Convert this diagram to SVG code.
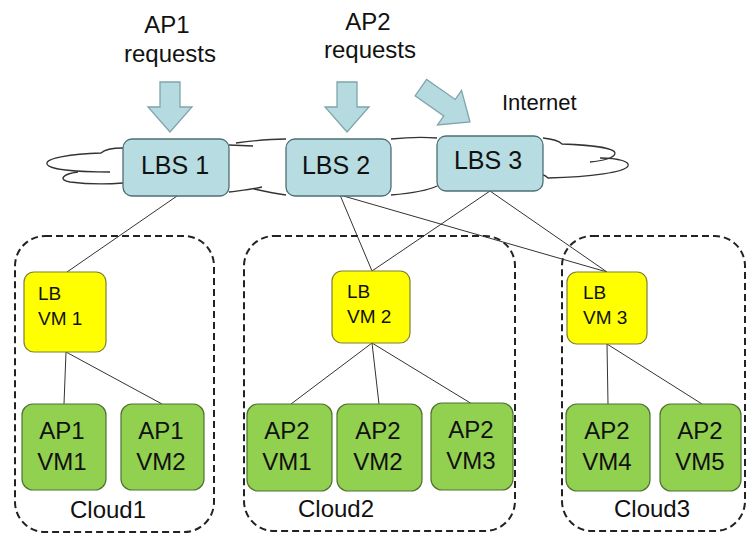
<svg xmlns="http://www.w3.org/2000/svg" width="747" height="536" viewBox="0 0 747 536">
<style>
text{font-family:"Liberation Sans",Arial,sans-serif;fill:#111}
.big{font-size:24px}
.top{font-size:24px}
.lbs{font-size:25px}
.lb{font-size:19px}
.cloudline{fill:none;stroke:#333;stroke-width:1.3}
.dash{fill:none;stroke:#222;stroke-width:2;stroke-dasharray:7 4}
.arrow{fill:#b5dbe0;stroke:#7fa5aa;stroke-width:1.3}
.lbsbox{fill:#b7dde2;stroke:#4d6f73;stroke-width:1.3}
.lbvm{fill:#ffff00;stroke:#7f7f3a;stroke-width:1.2}
.ap{fill:#92d050;stroke:#4f7230;stroke-width:1.2}
.conn{stroke:#333;stroke-width:1;fill:none}
</style>
<rect width="747" height="536" fill="#fff"/>
<g id="labels">
<text class="top" x="167" y="33" text-anchor="middle">AP1</text>
<text class="top" x="170" y="62" text-anchor="middle">requests</text>
<text class="top" x="368" y="30" text-anchor="middle">AP2</text>
<text class="top" x="370" y="58" text-anchor="middle">requests</text>
<text x="502" y="110" style="font-size:22px">Internet</text>
</g>
<g id="arrows">
<polygon class="arrow" transform="translate(170,132)" points="-10,-50 10,-50 10,-25 22,-25 0,0 -22,-25 -10,-25"/>
<polygon class="arrow" transform="translate(347,132)" points="-10,-50 10,-50 10,-25 22,-25 0,0 -22,-25 -10,-25"/>
<polygon class="arrow" transform="translate(470,122) rotate(-55)" points="-10,-60 10,-60 10,-25 21,-25 0,0 -21,-25 -10,-25"/>
</g>
<g id="internet-cloud">
<path class="cloudline" d="M123,148 C112,148 104,150 101,153 C72,154 45,158 47,164 C49,170 80,172 110,172"/>
<path class="cloudline" d="M78,172 C62,174 58,180 70,182 C86,184 110,184 123,183"/>
<path class="cloudline" d="M229,145 L253,146 M236,143 C258,140 274,139 286,139"/>
<path class="cloudline" d="M391,139 C410,137 425,137 437,138"/>
<path class="cloudline" d="M229,192 C244,190 254,189 262,187 M254,189 C268,192 279,194 286,195"/>
<path class="cloudline" d="M391,195 C414,193 429,190 437,186"/>
<path class="cloudline" d="M543,138 C552,139 558,140 562,144 C590,145 615,148 615,153 C615,158 602,161 590,162"/>
<path class="cloudline" d="M600,158 C620,158 630,162 628,166 C625,172 592,177 548,178 C546,176 544,175 543,175"/>
</g>
<g id="clouds">
<rect id="cloud1" class="dash" x="15" y="236" width="199" height="296" rx="30"/>
<rect id="cloud2" class="dash" x="244" y="236" width="271" height="295" rx="30"/>
<rect id="cloud3" class="dash" x="562" y="236" width="183" height="295" rx="30"/>
<text class="big" x="108" y="518" text-anchor="middle">Cloud1</text>
<text class="big" x="336" y="517" text-anchor="middle">Cloud2</text>
<text class="big" x="652" y="517" text-anchor="middle">Cloud3</text>
</g>
<g id="connectors">
<line class="conn" x1="177" y1="196" x2="67" y2="272"/>
<line class="conn" x1="340" y1="195" x2="372" y2="271"/>
<line class="conn" x1="340" y1="195" x2="607" y2="272"/>
<line class="conn" x1="490" y1="191" x2="372" y2="271"/>
<line class="conn" x1="490" y1="191" x2="607" y2="272"/>
<line class="conn" x1="66" y1="352" x2="64" y2="404"/>
<line class="conn" x1="66" y1="352" x2="162" y2="404"/>
<line class="conn" x1="372" y1="343" x2="291" y2="404"/>
<line class="conn" x1="372" y1="343" x2="379" y2="404"/>
<line class="conn" x1="372" y1="343" x2="472" y2="404"/>
<line class="conn" x1="607" y1="344" x2="608" y2="404"/>
<line class="conn" x1="607" y1="344" x2="702" y2="404"/>
</g>
<g id="lbs1"><rect class="lbsbox" x="123" y="139" width="106" height="57" rx="9"/><text class="lbs" x="175" y="174" text-anchor="middle">LBS 1</text></g>
<g id="lbs2"><rect class="lbsbox" x="286" y="139" width="105" height="57" rx="9"/><text class="lbs" x="336" y="174" text-anchor="middle">LBS 2</text></g>
<g id="lbs3"><rect class="lbsbox" x="437" y="136" width="106" height="55" rx="9"/><text class="lbs" x="488" y="169" text-anchor="middle">LBS 3</text></g>
<g id="lbvm1"><rect class="lbvm" x="24" y="272" width="82" height="80" rx="10"/><text class="lb" x="38" y="300">LB</text><text class="lb" x="38" y="325">VM 1</text></g>
<g id="lbvm2"><rect class="lbvm" x="332" y="271" width="78" height="72" rx="10"/><text class="lb" x="347" y="298">LB</text><text class="lb" x="347" y="323">VM 2</text></g>
<g id="lbvm3"><rect class="lbvm" x="567" y="272" width="80" height="72" rx="10"/><text class="lb" x="583" y="299">LB</text><text class="lb" x="583" y="324">VM 3</text></g>
<g id="ap1vm1"><rect class="ap" x="22" y="404" width="84" height="86" rx="11"/><text class="big" x="62" y="439" text-anchor="middle">AP1</text><text class="big" x="62" y="470" text-anchor="middle">VM1</text></g>
<g id="ap1vm2"><rect class="ap" x="121" y="404" width="83" height="86" rx="11"/><text class="big" x="161" y="439" text-anchor="middle">AP1</text><text class="big" x="161" y="470" text-anchor="middle">VM2</text></g>
<g id="ap2vm1"><rect class="ap" x="247" y="404" width="85" height="87" rx="11"/><text class="big" x="287" y="439" text-anchor="middle">AP2</text><text class="big" x="287" y="470" text-anchor="middle">VM1</text></g>
<g id="ap2vm2"><rect class="ap" x="337" y="404" width="85" height="87" rx="11"/><text class="big" x="378" y="439" text-anchor="middle">AP2</text><text class="big" x="378" y="470" text-anchor="middle">VM2</text></g>
<g id="ap2vm3"><rect class="ap" x="431" y="403" width="82" height="87" rx="11"/><text class="big" x="471" y="438" text-anchor="middle">AP2</text><text class="big" x="471" y="469" text-anchor="middle">VM3</text></g>
<g id="ap2vm4"><rect class="ap" x="566" y="404" width="84" height="87" rx="11"/><text class="big" x="607" y="439" text-anchor="middle">AP2</text><text class="big" x="607" y="470" text-anchor="middle">VM4</text></g>
<g id="ap2vm5"><rect class="ap" x="660" y="404" width="81" height="87" rx="11"/><text class="big" x="700" y="439" text-anchor="middle">AP2</text><text class="big" x="700" y="470" text-anchor="middle">VM5</text></g>
</svg>
